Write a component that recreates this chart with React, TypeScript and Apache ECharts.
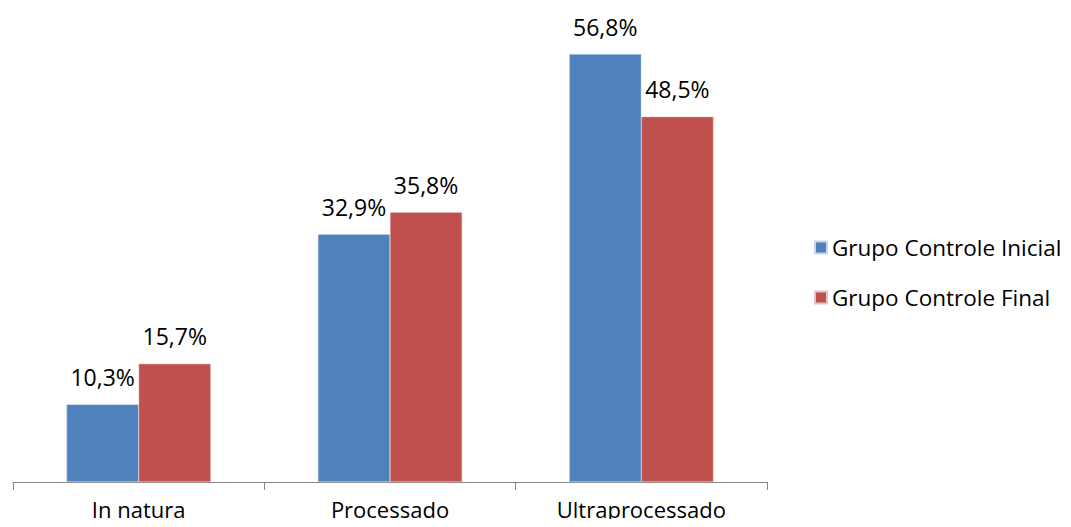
import React, { useEffect, useRef } from "react";
import * as echarts from "echarts";

const categories = ["In natura", "Processado", "Ultraprocessado"];
const seriesNames = ["Grupo Controle Inicial", "Grupo Controle Final"];
const inicialValues = [10.3, 32.9, 56.8];
const finalValues = [15.7, 35.8, 48.5];
const colors = ["#4F81BD", "#C0504D"];

const FONT = "Open Sans";

export default function App() {
  const ref = useRef<HTMLDivElement>(null);
  useEffect(() => {
    if (!ref.current) return;
    const chart = echarts.init(ref.current, null, { renderer: "svg" });
    const label = {
      show: true,
      position: "top" as const,
      distance: 16,
      fontFamily: FONT,
      fontSize: 23,
      color: "#000",
      formatter: (p: any) => p.value.toFixed(1).replace(".", ",") + "%",
    };
    chart.setOption({
      animation: false,
      backgroundColor: "#fff",
      grid: { left: 13, right: 304, top: 30, bottom: 45 },
      legend: {
        orient: "vertical",
        left: 809,
        top: 231,
        itemWidth: 12,
        itemHeight: 12,
        itemGap: 27,
        icon: "rect",
        textStyle: { fontFamily: FONT, fontSize: 22.5, color: "#000" },
        data: seriesNames,
      },
      xAxis: {
        type: "category",
        data: categories,
        axisLine: { lineStyle: { color: "#868686", width: 1 } },
        axisTick: { show: true, length: 8, lineStyle: { color: "#868686" } },
        axisLabel: { fontFamily: FONT, fontSize: 22, color: "#000", margin: 16 },
      },
      yAxis: {
        type: "value",
        min: 0,
        max: 60,
        show: false,
        splitLine: { show: false },
      },
      series: [
        {
          name: seriesNames[0],
          type: "bar",
          data: inicialValues,
          barGap: "0%",
          barCategoryGap: "42.6%",
          itemStyle: { color: colors[0], borderColor: "#c9d6ea", borderWidth: 0.5 },
          label,
        },
        {
          name: seriesNames[1],
          type: "bar",
          data: finalValues,
          itemStyle: { color: colors[1], borderColor: "#e5c3c2", borderWidth: 0.5 },
          label,
        },
      ],
    });
    return () => chart.dispose();
  }, []);
  return <div ref={ref} style={{ width: 1071, height: 527, margin: -8 }} />;
}
